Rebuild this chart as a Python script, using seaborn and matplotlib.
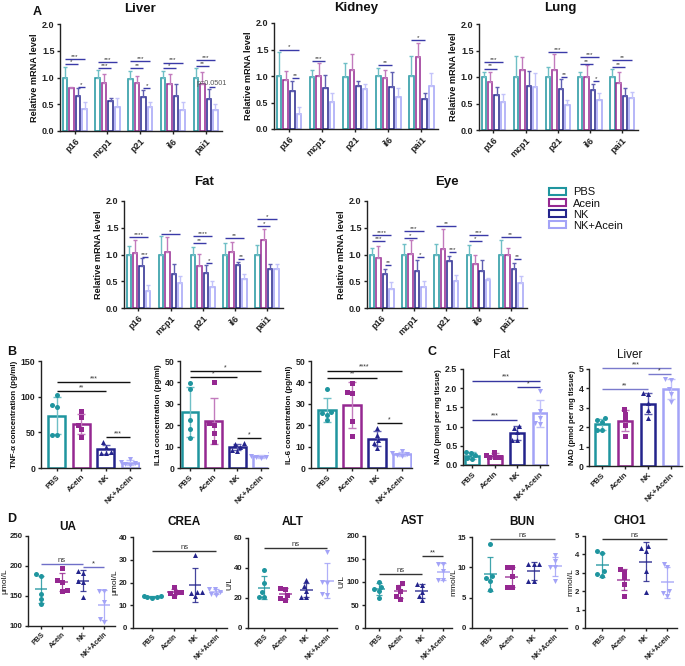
import numpy as np
import pandas as pd
import matplotlib
matplotlib.use("Agg")
import matplotlib.pyplot as plt
import seaborn as sns
from matplotlib.patches import Patch

# ---------------- categories / styles ----------------
GROUPS = ["PBS", "Acein", "NK", "NK+Acein"]
GENES = ["p16", "mcp1", "p21", "il6", "pai1"]
COLORS = ["#1f959f", "#952891", "#24248c", "#a3a3f7"]
LIGHT = ["#6fbfc6", "#c27bbd", "#5f5fb2", "#c3c3fa"]
MARKERS = ["o", "s", "^", "v"]

# ---------------- Panel A data (rows = groups, cols = genes) ----------------
liver_mean = [[1.00, 1.00, 0.98, 1.00, 1.00], [0.80, 0.90, 0.90, 0.88, 0.87],
              [0.65, 0.57, 0.63, 0.65, 0.60], [0.42, 0.45, 0.44, 0.39, 0.40]]
liver_sd = [[0.19, 0.14, 0.14, 0.12, 0.17], [0.03, 0.16, 0.12, 0.19, 0.23],
            [0.15, 0.05, 0.14, 0.22, 0.18], [0.12, 0.16, 0.11, 0.16, 0.10]]
kidney_mean = [[1.00, 0.98, 0.99, 1.00, 1.00], [0.93, 1.00, 1.11, 0.97, 1.36],
               [0.71, 0.77, 0.82, 0.80, 0.56], [0.29, 0.51, 0.75, 0.61, 0.82]]
kidney_sd = [[0.45, 0.14, 0.26, 0.16, 0.38], [0.17, 0.25, 0.30, 0.15, 0.26],
             [0.20, 0.24, 0.09, 0.27, 0.12], [0.13, 0.16, 0.10, 0.17, 0.23]]
lung_mean = [[1.00, 1.00, 1.00, 1.00, 1.00], [0.91, 1.13, 1.13, 1.00, 0.89],
             [0.66, 0.83, 0.78, 0.76, 0.65], [0.53, 0.81, 0.48, 0.57, 0.60]]
lung_sd = [[0.10, 0.39, 0.18, 0.10, 0.15], [0.18, 0.24, 0.30, 0.23, 0.20],
           [0.15, 0.28, 0.18, 0.11, 0.14], [0.14, 0.26, 0.09, 0.13, 0.12]]
fat_mean = [[1.00, 1.00, 1.00, 1.00, 1.00], [1.02, 1.05, 0.79, 1.05, 1.28],
            [0.78, 0.64, 0.66, 0.80, 0.72], [0.32, 0.47, 0.40, 0.54, 0.72]]
fat_sd = [[0.16, 0.35, 0.14, 0.22, 0.17], [0.26, 0.28, 0.22, 0.19, 0.20],
          [0.15, 0.18, 0.15, 0.06, 0.10], [0.11, 0.13, 0.11, 0.10, 0.10]]
eye_mean = [[1.00, 1.00, 1.00, 1.00, 1.00], [0.93, 1.01, 1.11, 0.82, 0.99],
            [0.64, 0.69, 0.87, 0.69, 0.73], [0.36, 0.40, 0.50, 0.52, 0.47]]
eye_sd = [[0.12, 0.19, 0.19, 0.18, 0.27], [0.23, 0.26, 0.37, 0.17, 0.13],
          [0.09, 0.20, 0.10, 0.20, 0.12], [0.12, 0.10, 0.12, 0.05, 0.12]]

# significance: (gene, group1, group2, y, label)
liver_sig = [(0, 0, 3, 1.35, "***"), (0, 0, 2, 1.25, "*"), (0, 2, 3, 0.83, "*"),
             (1, 0, 3, 1.29, "***"), (1, 0, 2, 1.17, "***"),
             (2, 0, 3, 1.30, "***"), (2, 0, 2, 1.17, "**"), (2, 2, 3, 0.80, "*"),
             (3, 0, 3, 1.28, "***"), (3, 0, 2, 1.17, "*"),
             (4, 0, 3, 1.33, "***"), (4, 0, 2, 1.22, "**"), (4, 2, 3, 0.82, "p=0.0501")]
kidney_sig = [(0, 0, 3, 1.50, "*"), (0, 2, 3, 0.97, "**"), (1, 0, 2, 1.29, "***"),
              (3, 0, 2, 1.21, "**"), (4, 0, 2, 1.67, "*")]
lung_sig = [(0, 0, 3, 1.29, "***"), (0, 0, 2, 1.16, "**"), (2, 0, 3, 1.47, "***"),
            (2, 2, 3, 1.00, "**"), (3, 0, 3, 1.37, "***"), (3, 0, 2, 1.25, "**"),
            (3, 2, 3, 0.92, "*"), (4, 0, 3, 1.32, "**"), (4, 0, 2, 1.18, "**")]
fat_sig = [(0, 0, 3, 1.33, "****"), (0, 2, 3, 0.96, "***"), (1, 0, 3, 1.39, "*"),
           (2, 0, 3, 1.35, "****"), (2, 0, 2, 1.21, "**"), (2, 2, 3, 0.84, "*"),
           (3, 0, 3, 1.30, "**"), (3, 2, 3, 0.92, "**"), (4, 0, 3, 1.67, "*"),
           (4, 0, 2, 1.53, "*")]
eye_sig = [(0, 0, 3, 1.36, "****"), (0, 0, 2, 1.25, "***"), (0, 2, 3, 0.80, "**"),
           (1, 0, 3, 1.44, "***"), (1, 0, 2, 1.31, "*"), (1, 2, 3, 0.95, "*"),
           (2, 0, 3, 1.53, "**"), (2, 2, 3, 1.05, "***"), (3, 0, 3, 1.36, "***"),
           (3, 0, 2, 1.25, "*"), (4, 0, 3, 1.33, "**"), (4, 2, 3, 0.92, "**")]

# ---------------- Panel B / C data (per group replicate values) ----------------
tnf = [[102, 88, 85, 46, 46], [80, 72, 60, 55, 44], [36, 30, 22, 21, 21], [13, 9, 7, 5, 4]]
il1a = [[39.7, 36.9, 22.2, 18.1, 13.8], [40.3, 21, 20, 16.5, 12.3],
        [11.5, 11, 10, 8.5, 8], [6.5, 5.5, 5.2, 5, 4.8]]
il6c = [[37, 26.4, 25.5, 25, 22.5], [39.7, 35.6, 35, 22, 14.8],
        [18.5, 15.5, 13, 11.5, 9.5], [8, 7, 6.5, 6, 5.5]]
nad_fat = [[0.35, 0.30, 0.25, 0.18, 0.15], [0.33, 0.27, 0.22, 0.20, 0.20],
           [1.02, 0.97, 0.87, 0.66, 0.65], [1.93, 1.40, 1.22, 1.10, 1.08]]
nad_liver = [[2.45, 2.35, 2.25, 1.85, 1.85], [2.95, 2.7, 2.4, 2.1, 1.55],
             [3.75, 3.7, 3.25, 2.9, 2.5], [4.5, 4.45, 3.95, 3.7, 3.3]]
tnf_sig = [(0, 3, 120, "***"), (0, 2, 108, "**"), (2, 3, 43, "***")]
il1a_sig = [(0, 3, 45.3, "*"), (0, 2, 42.3, "*"), (2, 3, 13.9, "*")]
il6c_sig = [(0, 3, 45.5, "****"), (0, 2, 42.2, "**"), (2, 3, 20.8, "*")]
nadf_sig = [(0, 3, 2.20, "***"), (2, 3, 2.03, "*"), (0, 2, 1.18, "***")]
nadl_sig = [(0, 3, 5.03, "***"), (2, 3, 4.72, "*"), (0, 2, 3.97, "**")]

# ---------------- Panel D data ----------------
ua = [[186, 184, 154, 145, 136], [197, 177, 174, 160, 159],
      [192, 189, 175, 174, 148], [158, 158, 140, 112, 107]]
crea = [[14, 14, 13.8, 13.8, 13.2], [18, 16, 16, 15.5, 14],
        [32, 16, 16, 15.5, 14], [17, 17, 16, 15, 14.5]]
alt = [[39, 30, 24, 21, 21], [27, 26, 22, 20, 19], [32, 28, 25, 21, 21], [51, 31, 30, 23, 22]]
ast = [[100, 90, 85, 80, 66], [97, 90, 80, 70, 63], [96, 94, 79, 70, 61], [140, 140, 124, 104, 104]]
bun = [[13.8, 8.5, 8.2, 7.7, 6.3], [10, 10, 8.5, 6.8, 6.8], [10.5, 10.5, 10.5, 7.8, 7.8],
       [12, 11, 10, 10, 7.8]]
cho1 = [[4.2, 4.1, 3.1, 2.95, 2.85], [3.2, 3.05, 2.75, 2.4, 1.75],
        [4.45, 4.35, 4.2, 3.1, 1.95], [3.5, 3.3, 2.0, 1.9, 1.75]]
ua_sig = [(0, 2, 204, "ns"), (2, 3, 198, "*")]
crea_sig = [(0, 3, 33.9, "ns")]
alt_sig = [(0, 3, 53.5, "ns")]
ast_sig = [(0, 2, 118, "ns"), (2, 3, 156, "**")]
bun_sig = [(0, 3, 14.6, "ns")]
cho1_sig = [(0, 3, 4.82, "ns")]

# ---------------- setup ----------------
sns.set_theme(style="ticks")
plt.rcParams["font.family"] = ["Liberation Sans", "DejaVu Sans"]
plt.rcParams.update({
    "axes.linewidth": 1.0, "xtick.major.width": 1.0, "ytick.major.width": 1.0,
    "xtick.major.size": 2.5, "ytick.major.size": 2.5,
    "xtick.major.pad": 1.5, "ytick.major.pad": 1.5,
    "axes.edgecolor": "#222222", "xtick.color": "#222222", "ytick.color": "#222222",
    "text.color": "#111111", "axes.labelcolor": "#111111",
})

W, H = 685, 666
fig = plt.figure(figsize=(W / 100, H / 100), dpi=100)


def add_ax(l, t, r, b):
    return fig.add_axes([l / W, 1 - b / H, (r - l) / W, (b - t) / H])


def ftext(x, y, s, **kw):
    fig.text(x / W, 1 - y / H, s, ha="center", va="center", **kw)


def sig(ax, x1, x2, y, label, color, fs=5.0, lw=1.0):
    ax.plot([x1, x2], [y, y], color=color, lw=lw, clip_on=False, solid_capstyle="butt")
    is_p = label.startswith("p=")
    ax.text((x1 + x2) / 2, y, label, ha="center", va="bottom",
            fontsize=5.2 if is_p else fs, color="#555555" if is_p else "#333333",
            clip_on=False, linespacing=0.8)


def style_axis(ax, xfs=6.3, yfs=6.3, ybold=True):
    sns.despine(ax=ax)
    ax.set_xlabel("")
    for lab in ax.get_xticklabels():
        lab.set_rotation(45)
        lab.set_ha("right")
        lab.set_rotation_mode("anchor")
        lab.set_fontweight("bold")
        lab.set_fontsize(xfs)
    for lab in ax.get_yticklabels():
        lab.set_fontweight("bold" if ybold else "normal")
        lab.set_fontsize(yfs)


def panel_a(box, means, sds, annots, lcolor="#3a3aa8"):
    ax = add_ax(*box)
    df = pd.DataFrame({"gene": np.tile(GENES, 4), "group": np.repeat(GROUPS, 5),
                       "value": np.concatenate(means)})
    sns.barplot(data=df, x="gene", y="value", hue="group", order=GENES, hue_order=GROUPS,
                palette=COLORS, fill=False, errorbar=None, width=0.8, gap=0.3,
                linewidth=1.1, legend=False, ax=ax)
    bars = list(ax.containers)[:4]
    centers = [[b.get_x() + b.get_width() / 2 for b in cont] for cont in bars]
    for g in range(4):
        for k in range(5):
            ax.errorbar(centers[g][k], means[g][k], yerr=[[0], [sds[g][k]]], fmt="none",
                        ecolor=LIGHT[g], elinewidth=1.0, capsize=1.5, capthick=1.0)
    for k, g1, g2, y, lab in annots:
        sig(ax, centers[g1][k], centers[g2][k], y, lab, lcolor, fs=4.6, lw=1.0)
    ax.set_ylim(0, 2)
    ax.set_yticks([0, 0.5, 1.0, 1.5, 2.0])
    ax.set_yticklabels(["0.0", "0.5", "1.0", "1.5", "2.0"])
    ax.set_xlim(-0.45, 4.5)
    ax.set_ylabel("Relative mRNA level", fontsize=6.6, fontweight="bold", labelpad=2)
    style_axis(ax, xfs=6.5, yfs=6.5)
    return ax


def long_df(vals):
    return pd.DataFrame({"group": np.repeat(GROUPS, [len(v) for v in vals]),
                         "value": np.concatenate(vals)})


def panel_bar(box, vals, ylim, yticks, ylabel, annots, xlim, lcolor="#111111",
              width=0.7, yfmt=None, ylfs=5.8):
    ax = add_ax(*box)
    df = long_df(vals)
    sns.barplot(data=df, x="group", y="value", hue="group", order=GROUPS, hue_order=GROUPS,
                palette=COLORS, fill=False, errorbar=None, width=width, linewidth=1.8,
                legend=False, ax=ax)
    for g in range(4):
        arr = np.asarray(vals[g], float)
        ax.errorbar(g, arr.mean(), yerr=arr.std(ddof=1), fmt="none", ecolor=LIGHT[g],
                    elinewidth=1.0, capsize=3, capthick=1.0)
    for g, grp in enumerate(GROUPS):
        sns.swarmplot(data=df[df.group == grp], x="group", y="value", order=GROUPS,
                      color=COLORS[g], marker=MARKERS[g], size=3.6, ax=ax, zorder=5)
    for g1, g2, y, lab in annots:
        sig(ax, g1, g2, y, lab, lcolor, fs=5.0, lw=1.0)
    ax.set_ylim(*ylim)
    ax.set_yticks(yticks)
    if yfmt:
        ax.set_yticklabels([yfmt % t for t in yticks])
    ax.set_xlim(*xlim)
    ax.set_ylabel(ylabel, fontsize=ylfs, fontweight="bold", labelpad=2)
    style_axis(ax, xfs=5.8, yfs=6.3)
    return ax


def panel_dot(box, vals, ylim, yticks, ylabel, annots, xlim, lcolor="#333333"):
    ax = add_ax(*box)
    df = long_df(vals)
    for g, grp in enumerate(GROUPS):
        sns.swarmplot(data=df[df.group == grp], x="group", y="value", order=GROUPS,
                      color=COLORS[g], marker=MARKERS[g], size=3.6, ax=ax, zorder=5)
    for g in range(4):
        arr = np.asarray(vals[g], float)
        m, s = arr.mean(), arr.std(ddof=1)
        ax.hlines(m, g - 0.3, g + 0.3, color=COLORS[g], lw=1.1, alpha=0.85)
        ax.errorbar(g, m, yerr=s, fmt="none", ecolor=COLORS[g], elinewidth=0.9,
                    capsize=2.5, capthick=0.9, alpha=0.85)
    for g1, g2, y, lab in annots:
        sig(ax, g1, g2, y, lab, lcolor, fs=5.5, lw=1.0)
    ax.set_ylim(*ylim)
    ax.set_yticks(yticks)
    ax.set_xlim(*xlim)
    ax.set_ylabel(ylabel, fontsize=6.0, labelpad=0.5)
    ax.tick_params(axis="x", pad=1.0)
    style_axis(ax, xfs=5.1, yfs=5.6)
    return ax


# ---------------- Panel A ----------------
panel_a((60, 24, 222, 131), liver_mean, liver_sd, liver_sig)
panel_a((274, 23, 438, 129), kidney_mean, kidney_sd, kidney_sig)
panel_a((479, 24, 638, 130), lung_mean, lung_sd, lung_sig)
panel_a((124, 201, 283, 308), fat_mean, fat_sd, fat_sig)
panel_a((367, 201, 527, 308), eye_mean, eye_sd, eye_sig)
for x, y, s in [(140, 9, "Liver"), (356, 8, "Kidney"), (560, 8, "Lung"),
                (204, 182, "Fat"), (447, 182, "Eye")]:
    ftext(x, y, s, fontsize=9.5, fontweight="bold")

handles = [Patch(facecolor="white", edgecolor=c, linewidth=1.5, label=g)
           for g, c in zip(GROUPS, COLORS)]
fig.legend(handles=handles, loc="upper left", bbox_to_anchor=(545 / W, 1 - 183 / H),
           frameon=False, fontsize=8, handlelength=1.5, handleheight=0.6,
           labelspacing=0.1, handletextpad=0.6, borderaxespad=0)

# ---------------- Panel B ----------------
panel_bar((41, 361, 140, 468), tnf, (0, 150), [0, 50, 100, 150],
          "TNF-α concentration (pg/ml)", tnf_sig, (-0.65, 3.4))
panel_bar((180, 361, 268, 468), il1a, (0, 50), [0, 10, 20, 30, 40, 50],
          "IL1α concentration (pg/ml)", il1a_sig, (-0.42, 3.3))
panel_bar((311, 361, 412, 468), il6c, (0, 50), [0, 10, 20, 30, 40, 50],
          "IL-6 concentration (pg/ml)", il6c_sig, (-0.65, 3.4))

# ---------------- Panel C ----------------
panel_bar((463, 369, 548, 465), nad_fat, (0, 2.5), [0, 0.5, 1.0, 1.5, 2.0, 2.5],
          "NAD (pmol per mg tissue)", nadf_sig, (-0.4, 3.35), lcolor="#3636a0",
          width=0.62, yfmt="%.1f", ylfs=5.6)
panel_bar((589, 369, 682, 466), nad_liver, (0, 5), [0, 1, 2, 3, 4, 5],
          "NAD (pmol per mg tissue)", nadl_sig, (-0.57, 3.5), lcolor="#7a7acc",
          width=0.62, ylfs=5.6)
ftext(502, 355, "Fat", fontsize=8.5)
ftext(630, 355, "Liver", fontsize=8.5)

# ---------------- Panel D ----------------
panel_dot((28, 536, 115, 626), ua, (100, 250), [100, 150, 200, 250], "μmol/L",
          ua_sig, (-0.62, 3.52), lcolor="#6f6fc8")
panel_dot((133, 537, 227, 628), crea, (0, 40), [0, 10, 20, 30, 40], "μmol/L",
          crea_sig, (-0.9, 3.5))
panel_dot((248, 538, 337, 628), alt, (0, 60), [0, 20, 40, 60], "U/L",
          alt_sig, (-0.76, 3.45))
panel_dot((365, 536, 452, 628), ast, (0, 200), [0, 50, 100, 150, 200], "U/L",
          ast_sig, (-0.65, 3.4))
panel_dot((472, 537, 567, 628), bun, (0, 15), [0, 5, 10, 15], "mmol/L",
          bun_sig, (-0.85, 3.55), lcolor="#555555")
panel_dot((585, 536, 677, 628), cho1, (0, 5), [0, 1, 2, 3, 4, 5], "mmol/L",
          cho1_sig, (-0.8, 3.45))
for x, y, s in [(68, 527, "UA"), (184, 522, "CREA"), (293, 522, "ALT"),
                (412, 521, "AST"), (522, 522, "BUN"), (630, 521, "CHO1")]:
    ftext(x, y, s, fontsize=8.5, fontweight="bold")

# panel letters
for x, y, s in [(37, 12, "A"), (12, 352, "B"), (432, 352, "C"), (12, 519, "D")]:
    ftext(x, y, s, fontsize=9, fontweight="bold")

fig.savefig("out.png", dpi=100)
